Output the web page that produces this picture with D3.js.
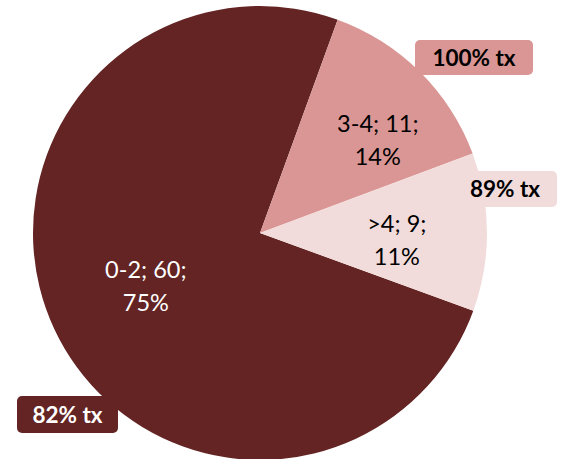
<!DOCTYPE html>
<html><head><meta charset="utf-8">
<script src="https://cdn.jsdelivr.net/npm/d3@7"></script>
<style>body{margin:0;background:#fff}svg{display:block}</style>
</head><body>
<svg id="c" width="563" height="459"></svg>
<script>
const categories = ["0-2", "3-4", ">4"];
const counts = [60, 11, 9];
const percents = ["75%", "14%", "11%"];
const callouts = ["82% tx", "100% tx", "89% tx"];
const colors = ["#632423", "#D99694", "#F2DCDB"];
const textColors = ["#ffffff", "#000000", "#000000"];

const svg = d3.select("#c");
const cx = 260, cy = 233, R = 227;
const g = svg.append("g").attr("transform", `translate(${cx},${cy})`);
const deg = Math.PI / 180;
const pie = d3.pie().sort(null).startAngle(110 * deg).endAngle(470 * deg);
const arcs = pie(counts);
const arc = d3.arc().innerRadius(0).outerRadius(R);

g.selectAll("path.slice").data(arcs).join("path")
  .attr("class", "slice")
  .attr("d", arc)
  .attr("fill", (d, i) => colors[i]);

// in-slice labels
const labelR = [126, 150, 137];
const labelShift = [0, 7, 3];
const font = "Lato, 'Open Sans', sans-serif";
arcs.forEach((d, i) => {
  const a = (d.startAngle + d.endAngle) / 2 + labelShift[i] * deg;
  const x = Math.sin(a) * labelR[i], y = -Math.cos(a) * labelR[i];
  const t = g.append("text").attr("text-anchor", "middle")
    .attr("font-family", font).attr("font-size", 23.5)
    .attr("fill", textColors[i]);
  t.append("tspan").attr("x", x).attr("y", y - 8).text(`${categories[i]}; ${counts[i]};`);
  t.append("tspan").attr("x", x).attr("y", y + 25).text(percents[i]);
});

// callout boxes
const boxes = [
  {x: 17, y: 396, w: 101, h: 37},
  {x: 415, y: 40, w: 118, h: 35},
  {x: 453, y: 171, w: 104, h: 36}
];
boxes.forEach((b, i) => {
  svg.append("rect").attr("x", b.x).attr("y", b.y).attr("width", b.w).attr("height", b.h)
    .attr("rx", 5).attr("fill", colors[i]);
  svg.append("text").attr("x", b.x + b.w / 2).attr("y", b.y + b.h / 2 + 8)
    .attr("text-anchor", "middle").attr("font-family", font).attr("font-weight", "bold")
    .attr("font-size", 22.5).attr("fill", textColors[i]).text(callouts[i]);
});
</script>
</body></html>
